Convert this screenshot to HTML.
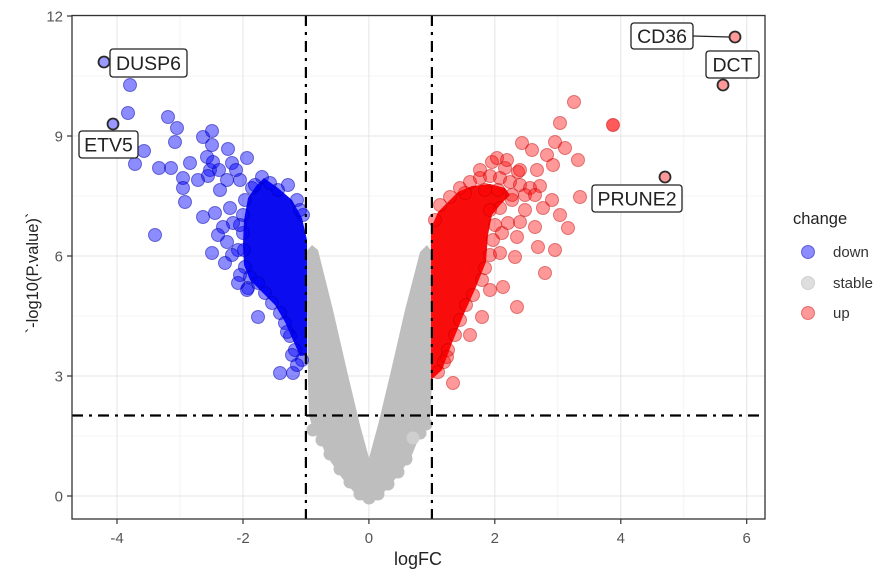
<!DOCTYPE html>
<html><head><meta charset="utf-8"><style>
html,body{margin:0;padding:0;background:#fff;}
svg{display:block;font-family:"Liberation Sans",Arial,sans-serif;}
</style></head><body>
<svg width="889" height="575" viewBox="0 0 889 575" xmlns="http://www.w3.org/2000/svg">
<rect width="889" height="575" fill="#fff"/>
<!-- grid -->
<g stroke="#f0f0f0" stroke-width="0.8">
<line x1="180" y1="15" x2="180" y2="519"/><line x1="305.9" y1="15" x2="305.9" y2="519"/><line x1="431.9" y1="15" x2="431.9" y2="519"/><line x1="557.8" y1="15" x2="557.8" y2="519"/><line x1="683.8" y1="15" x2="683.8" y2="519"/>
<line x1="72" y1="436" x2="765" y2="436"/><line x1="72" y1="316" x2="765" y2="316"/><line x1="72" y1="196" x2="765" y2="196"/><line x1="72" y1="76" x2="765" y2="76"/>
</g>
<g stroke="#e6e6e6" stroke-width="1.1">
<line x1="117" y1="15" x2="117" y2="519"/><line x1="243" y1="15" x2="243" y2="519"/><line x1="368.9" y1="15" x2="368.9" y2="519"/><line x1="494.8" y1="15" x2="494.8" y2="519"/><line x1="620.8" y1="15" x2="620.8" y2="519"/><line x1="746.7" y1="15" x2="746.7" y2="519"/>
<line x1="72" y1="496" x2="765" y2="496"/><line x1="72" y1="376" x2="765" y2="376"/><line x1="72" y1="256" x2="765" y2="256"/><line x1="72" y1="136" x2="765" y2="136"/><line x1="72" y1="16" x2="765" y2="16"/>
</g>
<!-- grey cloud -->
<path d="M306,252 L312,245 L318,250 L333,310 L348,375 L360,425 L369,458 L378,425 L390,375 L405,310 L420,252 L427,245 L432,252 L432,300 L432,380 L430,420 L424,432 L418,440 L412,455 L405,466 L396,478 L386,490 L376,500 L369,503 L362,500 L352,490 L342,478 L333,465 L326,455 L320,440 L313,430 L309,415 L308,380 L307,300 Z" fill="#bebebe"/>
<g fill="#bebebe">
<circle cx="313" cy="430" r="6.5"/><circle cx="322" cy="440" r="6.5"/><circle cx="330" cy="454" r="6.5"/><circle cx="340" cy="469" r="6.5"/><circle cx="350" cy="482" r="6.5"/><circle cx="360" cy="494" r="6.5"/><circle cx="369" cy="498" r="6.5"/><circle cx="378" cy="494" r="6.5"/><circle cx="388" cy="484" r="6.5"/><circle cx="398" cy="472" r="6.5"/><circle cx="406" cy="459" r="6.5"/><circle cx="420" cy="433" r="6.5"/><circle cx="426" cy="424" r="6.5"/><circle cx="309" cy="256" r="6"/><circle cx="429" cy="256" r="6"/><circle cx="323" cy="428" r="6.5"/>
</g>
<circle cx="413" cy="438" r="6.5" fill="#cfcfcf"/>
<!-- blue dense -->
<path d="M248,198 L256,186 L264,178 L278,188 L292,200 L302,218 L307,240 L307,355 L300,356 L292,338 L285,322 L275,305 L262,292 L250,280 L244,265 L243,245 L244,220 Z" fill="#0c0cf0"/>
<g fill="rgba(0,0,255,0.45)" stroke="rgba(0,0,170,0.5)" stroke-width="1">
<circle cx="262" cy="177" r="6.5"/><circle cx="278" cy="190" r="6.5"/><circle cx="245" cy="200" r="6.5"/><circle cx="243" cy="215" r="6.5"/><circle cx="243" cy="233" r="6.5"/><circle cx="244" cy="250" r="6.5"/><circle cx="245" cy="267" r="6.5"/><circle cx="250" cy="277" r="6.5"/><circle cx="258" cy="283" r="6.5"/><circle cx="265" cy="293" r="6.5"/><circle cx="272" cy="303" r="6.5"/><circle cx="280" cy="313" r="6.5"/><circle cx="285" cy="323" r="6.5"/><circle cx="290" cy="336" r="6.5"/><circle cx="295" cy="350" r="6.5"/><circle cx="302" cy="360" r="6.5"/><circle cx="288" cy="185" r="6.5"/><circle cx="297" cy="200" r="6.5"/><circle cx="303" cy="215" r="6.5"/><circle cx="252" cy="188" r="6.5"/><circle cx="240" cy="225" r="6.5"/><circle cx="238" cy="250" r="6.5"/><circle cx="240" cy="275" r="6.5"/><circle cx="248" cy="288" r="6.5"/><circle cx="255" cy="185" r="6.5"/><circle cx="270" cy="183" r="6.5"/><circle cx="300" cy="210" r="6.5"/>
<circle cx="130" cy="85" r="6.5"/><circle cx="128" cy="113" r="6.5"/><circle cx="144" cy="151" r="6.5"/><circle cx="135" cy="164" r="6.5"/><circle cx="168" cy="117" r="6.5"/><circle cx="177" cy="128" r="6.5"/><circle cx="175" cy="142" r="6.5"/><circle cx="159" cy="168" r="6.5"/><circle cx="171" cy="168" r="6.5"/><circle cx="203" cy="137" r="6.5"/><circle cx="212" cy="131" r="6.5"/><circle cx="228" cy="149" r="6.5"/><circle cx="247" cy="158" r="6.5"/><circle cx="183" cy="178" r="6.5"/><circle cx="190" cy="163" r="6.5"/><circle cx="198" cy="180" r="6.5"/><circle cx="212" cy="145" r="6.5"/><circle cx="210" cy="170" r="6.5"/><circle cx="183" cy="188" r="6.5"/><circle cx="185" cy="202" r="6.5"/><circle cx="232" cy="163" r="6.5"/><circle cx="227" cy="180" r="6.5"/><circle cx="203" cy="217" r="6.5"/><circle cx="215" cy="213" r="6.5"/><circle cx="230" cy="208" r="6.5"/><circle cx="223" cy="227" r="6.5"/><circle cx="227" cy="242" r="6.5"/><circle cx="212" cy="253" r="6.5"/><circle cx="225" cy="263" r="6.5"/><circle cx="238" cy="283" r="6.5"/><circle cx="247" cy="290" r="6.5"/><circle cx="258" cy="317" r="6.5"/><circle cx="280" cy="373" r="6.5"/><circle cx="293" cy="373" r="6.5"/><circle cx="292" cy="355" r="6.5"/><circle cx="287" cy="332" r="6.5"/><circle cx="155" cy="235" r="6.5"/><circle cx="207" cy="157" r="6.5"/><circle cx="213" cy="162" r="6.5"/><circle cx="208" cy="176" r="6.5"/><circle cx="219" cy="170" r="6.5"/><circle cx="236" cy="170" r="6.5"/><circle cx="240" cy="180" r="6.5"/><circle cx="220" cy="190" r="6.5"/><circle cx="233" cy="223" r="6.5"/><circle cx="218" cy="235" r="6.5"/><circle cx="232" cy="255" r="6.5"/><circle cx="297" cy="365" r="6.5"/>
</g>
<!-- red dense -->
<path d="M431,228 L438,212 L447,203 L458,192 L472,186 L490,184 L505,188 L510,195 L500,205 L492,215 L488,235 L486,262 L476,287 L463,316 L452,343 L442,370 L431,380 Z" fill="#f80c0c"/>
<g fill="rgba(255,0,0,0.4)" stroke="rgba(190,0,0,0.45)" stroke-width="1">
<circle cx="460" cy="188" r="6.5"/><circle cx="470" cy="182" r="6.5"/><circle cx="480" cy="178" r="6.5"/><circle cx="490" cy="176" r="6.5"/><circle cx="500" cy="178" r="6.5"/><circle cx="510" cy="182" r="6.5"/><circle cx="520" cy="185" r="6.5"/><circle cx="530" cy="188" r="6.5"/><circle cx="540" cy="186" r="6.5"/><circle cx="518" cy="172" r="6.5"/><circle cx="505" cy="168" r="6.5"/><circle cx="492" cy="162" r="6.5"/><circle cx="480" cy="170" r="6.5"/><circle cx="525" cy="195" r="6.5"/><circle cx="535" cy="195" r="6.5"/><circle cx="512" cy="200" r="6.5"/><circle cx="500" cy="208" r="6.5"/><circle cx="490" cy="210" r="6.5"/><circle cx="495" cy="225" r="6.5"/><circle cx="493" cy="240" r="6.5"/><circle cx="490" cy="255" r="6.5"/><circle cx="485" cy="268" r="6.5"/><circle cx="482" cy="280" r="6.5"/><circle cx="473" cy="295" r="6.5"/><circle cx="466" cy="305" r="6.5"/><circle cx="460" cy="320" r="6.5"/><circle cx="455" cy="335" r="6.5"/><circle cx="448" cy="350" r="6.5"/><circle cx="444" cy="362" r="6.5"/><circle cx="438" cy="372" r="6.5"/><circle cx="440" cy="205" r="6.5"/><circle cx="450" cy="197" r="6.5"/><circle cx="435" cy="220" r="6.5"/><circle cx="465" cy="193" r="6.5"/><circle cx="498" cy="190" r="6.5"/><circle cx="485" cy="190" r="6.5"/>
<circle cx="574" cy="102" r="6.5"/><circle cx="560" cy="123" r="6.5"/><circle cx="522" cy="143" r="6.5"/><circle cx="532" cy="150" r="6.5"/><circle cx="555" cy="142" r="6.5"/><circle cx="565" cy="148" r="6.5"/><circle cx="578" cy="160" r="6.5"/><circle cx="547" cy="155" r="6.5"/><circle cx="553" cy="165" r="6.5"/><circle cx="537" cy="170" r="6.5"/><circle cx="520" cy="170" r="6.5"/><circle cx="507" cy="160" r="6.5"/><circle cx="497" cy="158" r="6.5"/><circle cx="580" cy="197" r="6.5"/><circle cx="552" cy="200" r="6.5"/><circle cx="543" cy="208" r="6.5"/><circle cx="560" cy="215" r="6.5"/><circle cx="568" cy="228" r="6.5"/><circle cx="535" cy="227" r="6.5"/><circle cx="520" cy="222" r="6.5"/><circle cx="508" cy="223" r="6.5"/><circle cx="517" cy="237" r="6.5"/><circle cx="502" cy="233" r="6.5"/><circle cx="538" cy="247" r="6.5"/><circle cx="555" cy="250" r="6.5"/><circle cx="500" cy="253" r="6.5"/><circle cx="515" cy="257" r="6.5"/><circle cx="545" cy="273" r="6.5"/><circle cx="503" cy="287" r="6.5"/><circle cx="490" cy="290" r="6.5"/><circle cx="482" cy="317" r="6.5"/><circle cx="517" cy="307" r="6.5"/><circle cx="470" cy="335" r="6.5"/><circle cx="453" cy="383" r="6.5"/><circle cx="447" cy="357" r="6.5"/><circle cx="512" cy="195" r="6.5"/><circle cx="525" cy="210" r="6.5"/>
</g>
<circle cx="613" cy="125" r="6.5" fill="rgba(255,0,0,0.65)" stroke="rgba(190,0,0,0.5)" stroke-width="1"/>
<!-- labelled points -->
<g stroke="#2a2a2a" stroke-width="1.8">
<circle cx="104" cy="62" r="5.5" fill="rgba(0,0,255,0.4)"/>
<circle cx="113" cy="124" r="5.5" fill="rgba(0,0,255,0.4)"/>
<circle cx="735" cy="37" r="5.5" fill="rgba(255,0,0,0.4)"/>
<circle cx="723" cy="85" r="5.5" fill="rgba(255,0,0,0.4)"/>
<circle cx="665" cy="177" r="5.5" fill="rgba(255,0,0,0.4)"/>
</g>
<!-- threshold lines -->
<g stroke="#000" stroke-width="2.2" fill="none" stroke-dasharray="11,6,3,6">
<line x1="305.9" y1="15" x2="305.9" y2="519"/>
<line x1="431.9" y1="15" x2="431.9" y2="519"/>
<line x1="72" y1="415.5" x2="765" y2="415.5"/>
</g>
<!-- labels -->
<line x1="693" y1="36" x2="729" y2="37" stroke="#222" stroke-width="1.2"/>
<g fill="#fff" stroke="#222" stroke-width="1.3">
<rect x="631" y="23" width="62" height="26" rx="3"/>
<rect x="706" y="51" width="53" height="27" rx="3"/>
<rect x="592" y="185" width="90" height="27" rx="3"/>
<rect x="110" y="49" width="77" height="28" rx="3"/>
<rect x="79" y="131" width="59" height="27" rx="3"/>
</g>
<g font-size="19.5" fill="#222" text-anchor="middle">
<text x="662" y="43">CD36</text>
<text x="732.5" y="71.5">DCT</text>
<text x="637" y="205.5">PRUNE2</text>
<text x="148.5" y="70">DUSP6</text>
<text x="108.5" y="151.5">ETV5</text>
</g>
<!-- panel border -->
<rect x="72" y="15.5" width="693" height="503.5" fill="none" stroke="#333" stroke-width="1.3"/>
<!-- ticks -->
<g stroke="#333" stroke-width="1.2">
<line x1="67" y1="496" x2="72" y2="496"/><line x1="67" y1="376" x2="72" y2="376"/><line x1="67" y1="256" x2="72" y2="256"/><line x1="67" y1="136" x2="72" y2="136"/><line x1="67" y1="16" x2="72" y2="16"/>
<line x1="117" y1="519" x2="117" y2="524"/><line x1="243" y1="519" x2="243" y2="524"/><line x1="368.9" y1="519" x2="368.9" y2="524"/><line x1="494.8" y1="519" x2="494.8" y2="524"/><line x1="620.8" y1="519" x2="620.8" y2="524"/><line x1="746.7" y1="519" x2="746.7" y2="524"/>
</g>
<g font-size="15" fill="#555" text-anchor="end">
<text x="63" y="501.5">0</text><text x="63" y="381.5">3</text><text x="63" y="261.5">6</text><text x="63" y="141.5">9</text><text x="63" y="21.5">12</text>
</g>
<g font-size="15" fill="#555" text-anchor="middle">
<text x="117" y="543">-4</text><text x="243" y="543">-2</text><text x="368.9" y="543">0</text><text x="494.8" y="543">2</text><text x="620.8" y="543">4</text><text x="746.7" y="543">6</text>
</g>
<text x="418" y="565" font-size="18" fill="#222" text-anchor="middle">logFC</text>
<text transform="translate(38,273) rotate(-90)" font-size="16.5" fill="#222" text-anchor="middle">`-log10(P.value)`</text>
<!-- legend -->
<text x="793" y="224" font-size="16.5" fill="#222">change</text>
<circle cx="808" cy="252" r="6.5" fill="rgba(0,0,255,0.45)" stroke="rgba(0,0,170,0.5)" stroke-width="1"/>
<circle cx="808" cy="283" r="6.5" fill="#dedede" stroke="#d0d0d0" stroke-width="1"/>
<circle cx="808" cy="313" r="6.5" fill="rgba(255,0,0,0.4)" stroke="rgba(190,0,0,0.45)" stroke-width="1"/>
<g font-size="15" fill="#333">
<text x="833" y="257">down</text><text x="833" y="288">stable</text><text x="833" y="318">up</text>
</g>
</svg>
</body></html>
